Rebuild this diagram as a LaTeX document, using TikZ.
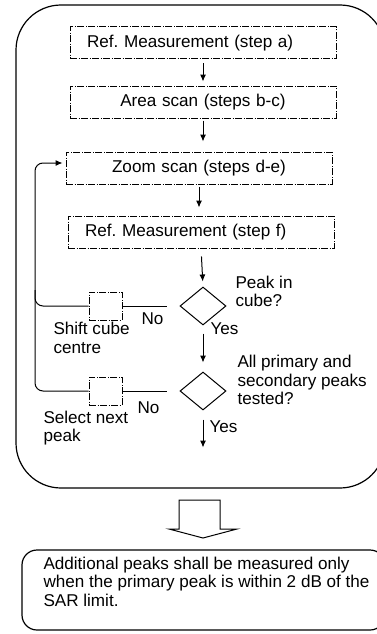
\documentclass[tikz,border=0pt]{standalone}
\usepackage{fontspec}
\setmainfont{Liberation Sans}
\usetikzlibrary{shapes.geometric,arrows.meta}

\tikzset{
  dashdotline/.style={dash pattern=on 7pt off 1.5pt on 1pt off 1.5pt},
  stepbox/.style={draw, dashdotline, minimum height=32pt,
    text width=232pt, inner xsep=17pt, inner ysep=0pt},
  smallbox/.style={draw, dashdotline, minimum width=33pt,
    minimum height=28pt, inner sep=0pt},
  decision/.style={draw, diamond, minimum width=46pt,
    minimum height=38pt, inner sep=0pt},
  lbl/.style={align=left, inner sep=0pt, anchor=west},
  >={Latex[length=7pt,width=6pt]}
}

\begin{document}
\frenchspacing
\begin{tikzpicture}[x=1pt,y=-1pt,line width=1pt,font=\fontsize{17.1}{18.5}\selectfont]
\useasboundingbox (0,0) rectangle (377,634);
% outer frame
\draw[line width=1.2pt, rounded corners=45pt] (16,5) rectangle (385,488);

\node[stepbox, align=left] (refa) at (203,43) {Ref. Measurement (step a)};
\node[stepbox, align=center] (area) at (203,102) {Area scan (steps b-c)};
\node[stepbox, align=center] (zoom) at (199,168) {Zoom scan (steps d-e)};
\node[stepbox, align=left] (reff) at (201,232) {Ref. Measurement (step f)};
\node[decision] (incube) at (203,306) {};
\node[decision] (alltested) at (203,391) {};
\node[smallbox] (shift) at (105.5,306) {};
\node[smallbox] (select) at (105.5,391) {};
\coordinate (exit) at ([yshift=-37pt]alltested.south);

\draw[->, shorten <=4pt, shorten >=4pt] (refa.south) -- (refa.south |- area.north);
\draw[->, shorten <=2pt, shorten >=10pt] (area.south) -- (area.south |- zoom.north);
\draw[->, shorten <=2pt, shorten >=8pt] (zoom.south) -- (zoom.south |- reff.north);
\draw[->, shorten <=9pt, shorten >=5pt] (reff.south |- incube.north) ++(0,-39) -- (incube.north);
\draw[->, shorten <=8pt, shorten >=9pt] (incube.south) -- (alltested.north);
\draw[->, shorten <=9pt] (alltested.south) -- (exit);

\draw[shorten >=13pt] (shift.east) -- (incube.west);
\draw[shorten >=13pt] (select.east) -- (alltested.west);
\draw[->, rounded corners=8pt, shorten >=3pt]
(select.west) -| (35,163) -- ([yshift=5pt]zoom.west);
\draw[rounded corners=8pt] (shift.west) -- (35,306) -- (35,290);

\node[lbl] (q1) at (235,291.5) {Peak in\\cube?};
\node[lbl] (no1) at (141,319) {No};
\node[lbl] (shiftlbl) at (53,338) {Shift cube\\centre};
\node[lbl] (yes1) at (210,329) {Yes};
\node[lbl] (q2) at (237,380) {All primary and\\secondary peaks\\tested?};
\node[lbl] (no2) at (137,408) {No};
\node[lbl] (selectlbl) at (43,428) {Select next\\peak};
\node[lbl] (yes2) at (209,427) {Yes};

% hollow arrow
\draw
(179,500) -- (220,500) -- (220,529) -- (237,529) -- (203,538) -- (169,529) -- (179,529) -- cycle;

\draw[line width=1.2pt, rounded corners=15pt] (22,550) rectangle (385,630);
\node[lbl] (note) at (43,581.5) {Additional peaks shall be measured only\\when the primary peak is within 2 dB of the\\SAR limit.};
\end{tikzpicture}
\end{document}
